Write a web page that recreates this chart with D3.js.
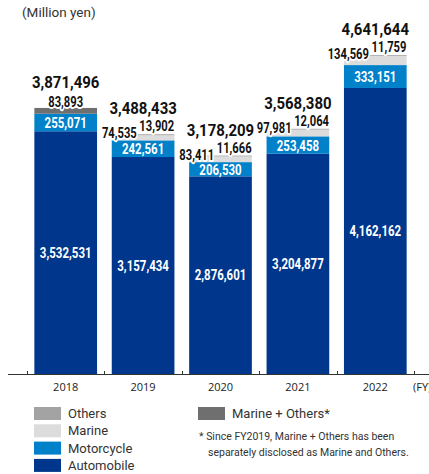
<!DOCTYPE html>
<html>
<head>
<meta charset="utf-8">
<script src="https://cdn.jsdelivr.net/npm/d3@7"></script>
<style>
  html, body { margin: 0; padding: 0; background: #fff; }
  svg { display: block; }
  .num { font-family: Roboto, "Noto Sans", sans-serif; font-weight: bold; }
  .halo { paint-order: stroke; stroke: #fff; stroke-width: 3px; stroke-linejoin: round; }
</style>
</head>
<body>
<svg id="chart" width="429" height="474"></svg>
<script>
// Net sales by segment, FY2018–FY2022 (million yen)
const years = ["2018", "2019", "2020", "2021", "2022"];
const automobile   = [3532531, 3157434, 2876601, 3204877, 4162162];
const motorcycle   = [255071, 242561, 206530, 253458, 333151];
const marine       = [0, 74535, 83411, 97981, 134569];
const others       = [0, 13902, 11666, 12064, 11759];
const marineOthers = [83893, 0, 0, 0, 0];
const totals       = [3871496, 3488433, 3178209, 3568380, 4641644];

const colors = {
  automobile: "#00378c",
  motorcycle: "#0081c9",
  marine: "#dcdcdc",
  others: "#a3a3a3",
  marineOthers: "#6f6f6f"
};

const svg = d3.select("#chart");
const W = 429;
const baseY = 374;

const x = d3.scaleBand().domain(years).range([27, 414]).paddingInner(0.19).paddingOuter(0.095);
const y = d3.scaleLinear().domain([0, 5000000]).range([baseY, 30.4]);

const keys = ["automobile", "motorcycle", "marineOthers", "marine", "others"];
const rows = years.map((yr, i) => ({
  year: yr,
  automobile: automobile[i],
  motorcycle: motorcycle[i],
  marineOthers: marineOthers[i],
  marine: marine[i],
  others: others[i],
  total: totals[i]
}));
const stacked = d3.stack().keys(keys)(rows);

// Stacked bars
svg.append("g").selectAll("g").data(stacked).join("g")
  .attr("fill", s => colors[s.key])
  .selectAll("rect").data(s => s.filter(d => d[1] > d[0])).join("rect")
  .attr("x", d => x(d.data.year))
  .attr("width", x.bandwidth())
  .attr("y", d => y(d[1]))
  .attr("height", d => y(d[0]) - y(d[1]));

// Axis line and tick marks at category boundaries
const axis = svg.append("g");
axis.append("line").attr("x1", 8).attr("x2", W).attr("y1", baseY + 0.5).attr("y2", baseY + 0.5)
  .attr("stroke", "#333").attr("stroke-width", 1);
const step = x.step();
d3.range(years.length + 1).forEach(i => {
  const tx = Math.round(27 + i * step) + 0.5;
  axis.append("line").attr("x1", tx).attr("x2", tx).attr("y1", baseY - 3).attr("y2", baseY)
    .attr("stroke", "#333");
});
axis.selectAll("text.yr").data(years).join("text").attr("class", "yr")
  .attr("x", d => x(d) + x.bandwidth() / 2)
  .attr("y", baseY + 17)
  .attr("text-anchor", "middle")
  .attr("font-family", "'Open Sans', sans-serif")
  .attr("font-size", 11)
  .attr("fill", "#222")
  .text(d => d);
axis.append("text").attr("x", 413).attr("y", baseY + 17)
  .attr("font-family", "'Open Sans', sans-serif").attr("font-size", 11).attr("fill", "#222")
  .text("(FY)");

// Unit caption
svg.append("text").attr("x", 22).attr("y", 17)
  .attr("font-family", "Roboto, sans-serif").attr("font-size", 13.5).attr("fill", "#333")
  .text("(Million yen)");

const fmt = d3.format(",");
const labels = svg.append("g");

// Condensed numeric label: the glyphs are narrowed horizontally around their anchor point
function numLabel(px, py, txt, opts) {
  const t = labels.append("text")
    .attr("class", "num" + (opts.halo ? " halo" : ""))
    .attr("transform", `translate(${px},${py}) scale(${opts.sx},1)`)
    .attr("text-anchor", opts.anchor || "middle")
    .attr("font-size", opts.size)
    .attr("fill", opts.fill)
    .text(txt);
  if (opts.halo) t.style("stroke-width", (3 / opts.sx) + "px");
  return t;
}

const segStyle = { size: 15.5, sx: 0.74, fill: "#fff" };
const smallStyle = { size: 14, sx: 0.8, fill: "#111", halo: true };
const totalStyle = { size: 17, sx: 0.88, fill: "#111", halo: true };

rows.forEach((r, i) => {
  const x0 = x(r.year), bw = x.bandwidth(), cx = x0 + bw / 2;
  const top = y(r.total);

  // Automobile value, white inside the segment
  numLabel(cx, (y(0) + y(r.automobile)) / 2 + 5, fmt(r.automobile), segStyle);

  // Motorcycle value, white inside the segment
  numLabel(cx, (y(r.automobile) + y(r.automobile + r.motorcycle)) / 2 + 5.5, fmt(r.motorcycle), segStyle);

  if (r.marineOthers > 0) {
    numLabel(cx, top - 1, fmt(r.marineOthers), smallStyle);
  } else {
    numLabel(x0 + 25, top + 4, fmt(r.marine), Object.assign({}, smallStyle, { anchor: "end" }));
    numLabel(x0 + 45, top - 3, fmt(r.others), smallStyle);
  }

  // Total
  numLabel(cx, top - 20, fmt(r.total), totalStyle);
});

// Legend
const legend = svg.append("g").attr("font-family", "Roboto, sans-serif").attr("font-size", 13).attr("fill", "#333");
const leftItems = [["Others", colors.others], ["Marine", colors.marine], ["Motorcycle", colors.motorcycle], ["Automobile", colors.automobile]];
leftItems.forEach(([name, c], i) => {
  const ly = 407 + i * 17.3;
  legend.append("rect").attr("x", 34).attr("y", ly).attr("width", 27).attr("height", 13).attr("fill", c);
  legend.append("text").attr("x", 68).attr("y", ly + 11).text(name);
});
legend.append("rect").attr("x", 198).attr("y", 407).attr("width", 27).attr("height", 13).attr("fill", colors.marineOthers);
legend.append("text").attr("x", 232).attr("y", 418).text("Marine + Others*");

const note = svg.append("g").attr("font-family", "Roboto, sans-serif").attr("font-size", 10.5).attr("fill", "#333");
note.append("text").attr("x", 199).attr("y", 440).text("* Since FY2019, Marine + Others has been");
note.append("text").attr("x", 208).attr("y", 456).text("separately disclosed as Marine and Others.");
</script>
</body>
</html>
